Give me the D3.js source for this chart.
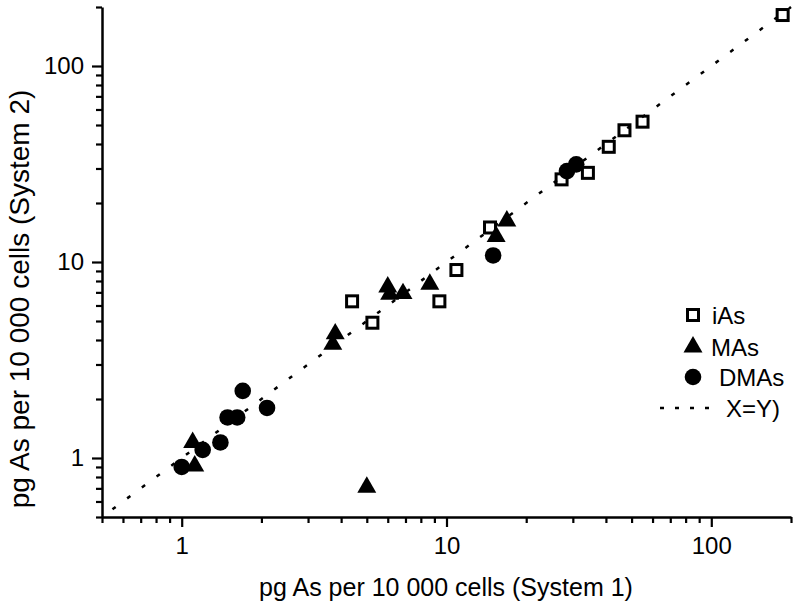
<html>
<style>
    body { margin: 0; background: #fff; }
    svg text { font-family: "Liberation Sans", Arial, sans-serif; fill: #000; }
</style>
<body>
<script src="https://d3js.org/d3.v7.min.js"></script>
<script>
// data: [System 1, System 2] in pg As per 10 000 cells
const iAs = [[4.4,6.3],[5.25,4.9],[9.4,6.3],[10.9,9.1],[14.6,15.0],[27.2,26.4],
             [34.2,28.5],[41,38.7],[47,47],[55,52],[186,182]]
const MAs = [[1.1,1.2],[1.12,0.91],[3.8,4.3],[3.72,3.8],[6.0,7.45],[6.1,6.85],
             [6.85,6.9],[8.65,7.7],[15.4,13.5],[16.9,16.2],[5.0,0.71]]
const DMAs = [[1.0,0.9],[1.2,1.1],[1.4,1.2],[1.49,1.61],[1.62,1.61],[1.7,2.2],
              [2.1,1.8],[15,10.8],[28.5,29.1],[30.9,31.5]]
const identityLine = [0.5, 200]

const majorTicks = [1, 10, 100]
const minorTicks = [0.5,0.6,0.7,0.8,0.9,2,3,4,5,6,7,8,9,20,30,40,50,60,70,80,90,200]
const legendLabels = ["iAs", "MAs", "DMAs", "X=Y)"]
const xTitle = "pg As per 10 000 cells (System 1)"
const yTitle = "pg As per 10 000 cells (System 2)"

const W = 800, H = 610
const svg = d3.select("body").append("svg")
    .attr("width", W).attr("height", H)

const x = d3.scaleLog().domain([0.5, 200]).range([102, 791])
const y = d3.scaleLog().domain([0.5, 200]).range([517, 7])

const allTicks = majorTicks.concat(minorTicks).sort((a,b)=>a-b)
const fmt = d => majorTicks.includes(d) ? String(d) : ""

const styleAxis = (g, horizontal) => {
    g.select(".domain").attr("stroke", "#000").attr("stroke-width", 2.5)
    g.selectAll(".tick line").attr("stroke", "#000").attr("stroke-width", 2.2)
        .attr(horizontal ? "y2" : "x2", d => (majorTicks.includes(d) ? 10 : 6) * (horizontal ? 1 : -1))
    g.selectAll(".tick text").attr("font-size", 24).attr("font-family", "Liberation Sans, Arial, sans-serif")
}

svg.append("g")
    .attr("transform", `translate(0,${y.range()[0]})`)
    .call(d3.axisBottom(x).tickValues(allTicks).tickFormat(fmt).tickSize(10).tickSizeOuter(0).tickPadding(10))
    .call(g => styleAxis(g, true))

svg.append("g")
    .attr("transform", `translate(${x.range()[0]},0)`)
    .call(d3.axisLeft(y).tickValues(allTicks).tickFormat(fmt).tickSize(10).tickSizeOuter(0).tickPadding(8))
    .call(g => styleAxis(g, false))

// axis titles
svg.append("text")
    .attr("x", 446).attr("y", 596)
    .attr("text-anchor", "middle").attr("font-size", 25)
    .text(xTitle)

svg.append("text")
    .attr("transform", "translate(28.5,299) rotate(-90)")
    .attr("text-anchor", "middle").attr("font-size", 28)
    .text(yTitle)

// marks
const sq = 11
const triangle = d3.symbol().type(d3.symbolTriangle).size(156)

const plot = svg.append("g")

plot.selectAll(".sq").data(iAs).join("rect")
    .attr("class", "sq")
    .attr("x", d => x(d[0]) - sq/2).attr("y", d => y(d[1]) - sq/2)
    .attr("width", sq).attr("height", sq)
    .attr("fill", "none").attr("stroke", "#000").attr("stroke-width", 3)

plot.selectAll(".tri").data(MAs).join("path")
    .attr("class", "tri")
    .attr("d", triangle)
    .attr("transform", d => `translate(${x(d[0])},${y(d[1])})`)
    .attr("fill", "#000")

plot.selectAll(".dot").data(DMAs).join("circle")
    .attr("class", "dot")
    .attr("cx", d => x(d[0])).attr("cy", d => y(d[1])).attr("r", 8.3)
    .attr("fill", "#000")

plot.append("line")
    .attr("x1", x(identityLine[0])).attr("y1", y(identityLine[0]))
    .attr("x2", x(identityLine[1])).attr("y2", y(identityLine[1]))
    .attr("stroke", "#000").attr("stroke-width", 2.5)
    .attr("stroke-dasharray", "4,14.3").attr("stroke-dashoffset", 5.3)

// legend
const lg = svg.append("g")
const lx = 693, rowY = [315, 347, 377, 408], textX = [712, 711, 719, 726]

lg.append("rect")
    .attr("x", lx - sq/2).attr("y", rowY[0] - sq/2).attr("width", sq).attr("height", sq)
    .attr("fill", "none").attr("stroke", "#000").attr("stroke-width", 3)
lg.append("path").attr("d", triangle)
    .attr("transform", `translate(${lx},${rowY[1]})`).attr("fill", "#000")
lg.append("circle").attr("cx", lx).attr("cy", rowY[2]).attr("r", 8.3).attr("fill", "#000")
lg.append("line")
    .attr("x1", 660).attr("x2", 712).attr("y1", rowY[3]).attr("y2", rowY[3])
    .attr("stroke", "#000").attr("stroke-width", 2.5).attr("stroke-dasharray", "4,11")

lg.selectAll(".lt").data(legendLabels).join("text")
    .attr("class", "lt")
    .attr("x", (d,i) => textX[i]).attr("y", (d,i) => rowY[i] + 9)
    .attr("font-size", 24)
    .text(d => d)
</script>
</body>
</html>
